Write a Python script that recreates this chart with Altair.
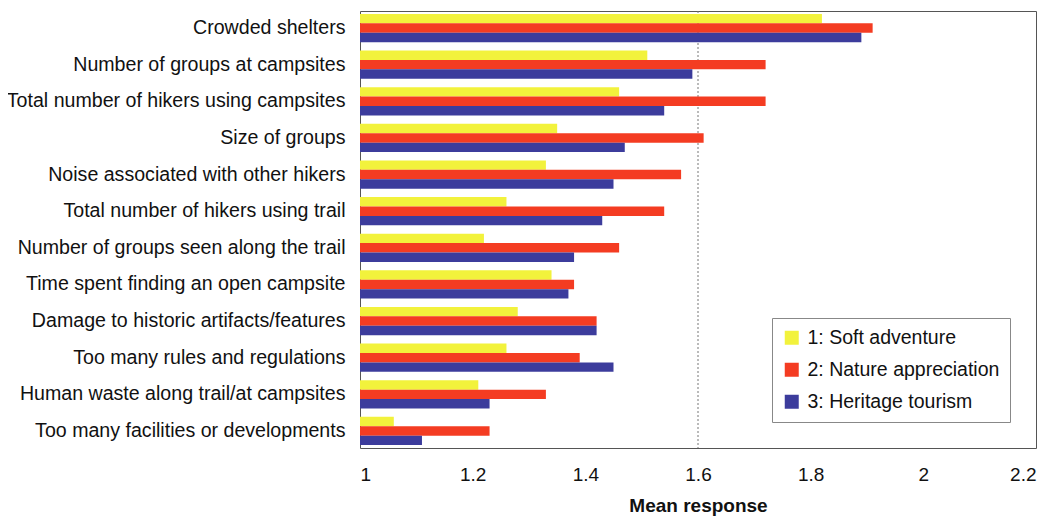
import altair as alt
import pandas as pd

categories = [
    "Crowded shelters",
    "Number of groups at campsites",
    "Total number of hikers using campsites",
    "Size of groups",
    "Noise associated with other hikers",
    "Total number of hikers using trail",
    "Number of groups seen along the trail",
    "Time spent finding an open campsite",
    "Damage to historic artifacts/features",
    "Too many rules and regulations",
    "Human waste along trail/at campsites",
    "Too many facilities or developments",
]
series = ["1: Soft adventure", "2: Nature appreciation", "3: Heritage tourism"]
soft_adventure = [1.82, 1.51, 1.46, 1.35, 1.33, 1.26, 1.22, 1.34, 1.28, 1.26, 1.21, 1.06]
nature_appreciation = [1.91, 1.72, 1.72, 1.61, 1.57, 1.54, 1.46, 1.38, 1.42, 1.39, 1.33, 1.23]
heritage_tourism = [1.89, 1.59, 1.54, 1.47, 1.45, 1.43, 1.38, 1.37, 1.42, 1.45, 1.23, 1.11]
colors = ["#f2f23c", "#f43c22", "#3c3c9c"]
x_ticks = [1, 1.2, 1.4, 1.6, 1.8, 2, 2.2]
grid_values = [1.6]

rows = []
for s, vals in zip(series, [soft_adventure, nature_appreciation, heritage_tourism]):
    for c, v in zip(categories, vals):
        rows.append({"category": c, "group": s, "value": v})
df = pd.DataFrame(rows)
grid_df = pd.DataFrame({"g": grid_values})

FONT = "Liberation Sans"

xscale = alt.Scale(domain=[1, 2.2], zero=False, nice=False)

bars = alt.Chart(df).mark_bar().encode(
    y=alt.Y(
        "category:N",
        sort=categories,
        scale=alt.Scale(paddingInner=0.23, paddingOuter=0.08),
        axis=alt.Axis(
            title=None,
            ticks=False,
            domain=False,
            labelFont=FONT,
            labelFontSize=19.6,
            labelColor="#111",
            labelPadding=15,
            labelLimit=400,
        ),
    ),
    yOffset=alt.YOffset("group:N", sort=series, scale=alt.Scale(paddingInner=0, paddingOuter=0)),
    x=alt.X(
        "value:Q",
        scale=xscale,
        axis=alt.Axis(
            title="Mean response",
            values=x_ticks,
            format="~g",
            grid=False,
            ticks=False,
            domain=False,
            labelFont=FONT,
            labelFontSize=19,
            labelColor="#111",
            labelPadding=17,
            titleFont=FONT,
            titleFontSize=19,
            titleFontWeight="bold",
            titleColor="#111",
            titlePadding=12,
        ),
    ),
    x2=alt.datum(1),
    color=alt.Color(
        "group:N",
        sort=series,
        scale=alt.Scale(domain=series, range=colors),
        legend=alt.Legend(
            title=None,
            orient="none",
            legendX=412,
            legendY=307,
            symbolType="square",
            symbolSize=196,
            symbolStrokeWidth=0,
            labelFont=FONT,
            labelFontSize=19.5,
            labelColor="#111",
            labelOffset=6,
            labelLimit=300,
            rowPadding=11,
            padding=10,
            strokeColor="#888",
            fillColor="white",
        ),
    ),
)

grid = alt.Chart(grid_df).mark_rule(color="#777", strokeWidth=1, strokeDash=[2, 2]).encode(
    x=alt.X("g:Q", scale=xscale)
)

chart = (
    alt.layer(grid, bars)
    .properties(
        width=676,
        height=437,
        autosize=alt.AutoSizeParams(type="none"),
        padding={"left": 352, "top": 3, "right": 10, "bottom": 68},
        background="white",
    )
    .configure_view(stroke="#555", strokeWidth=1)
)

chart.save("out.html", embed_options={"renderer": "svg", "actions": False})
